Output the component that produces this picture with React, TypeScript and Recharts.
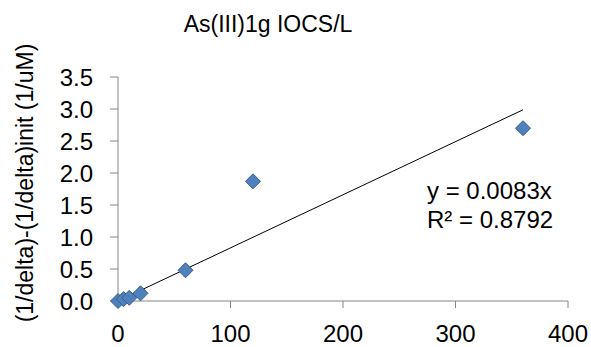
import React from 'react';
import { ScatterChart, Scatter, XAxis, YAxis, ReferenceLine } from 'recharts';

const xValues = [0, 5, 10, 20, 60, 120, 360];
const yValues = [0, 0.03, 0.05, 0.12, 0.48, 1.87, 2.7];
const xTicks = [0, 100, 200, 300, 400];
const yTicks = [0, 0.5, 1.0, 1.5, 2.0, 2.5, 3.0, 3.5];
const slope = 0.0083;
const trendX = [0, 360];

const points = xValues.map((x, i) => ({ x, y: yValues[i] }));
const trend = trendX.map((x) => ({ x, y: slope * x }));

const FONT = '"Liberation Sans", Arial, sans-serif';
const AXIS = '#868686';

const Diamond = (props: any) => {
  const { cx, cy } = props;
  const r = 7.5;
  return (
    <polygon
      points={`${cx},${cy - r} ${cx + r},${cy} ${cx},${cy + r} ${cx - r},${cy}`}
      fill="#4F81BD"
      stroke="#385D8A"
      strokeWidth={1}
    />
  );
};

export default function App() {
  return (
    <div style={{ position: 'absolute', left: 0, top: 0, width: 591, height: 347, background: '#fff' }}>
      <ScatterChart width={591} height={347} margin={{ top: 77, right: 23, bottom: 0, left: 0 }}>
        <XAxis
          type="number"
          dataKey="x"
          domain={[0, 400]}
          ticks={xTicks}
          tickSize={7}
          tickMargin={17}
          height={46}
          axisLine={{ stroke: AXIS }}
          tickLine={{ stroke: AXIS }}
          tick={{ fill: '#000', fontSize: 24, fontFamily: FONT }}
          interval={0}
        />
        <YAxis
          type="number"
          dataKey="y"
          domain={[0, 3.5]}
          ticks={yTicks}
          tickFormatter={(v: number) => v.toFixed(1)}
          tickSize={8}
          tickMargin={17}
          width={118}
          axisLine={{ stroke: AXIS }}
          tickLine={{ stroke: AXIS }}
          tick={{ fill: '#000', fontSize: 24, fontFamily: FONT }}
          interval={0}
        />
        <ReferenceLine
          segment={[trend[0], trend[1]]}
          stroke="#000"
          strokeWidth={1}
          ifOverflow="visible"
        />
        <Scatter data={points} shape={<Diamond />} isAnimationActive={false} />
      </ScatterChart>
      <svg
        width={591}
        height={347}
        style={{ position: 'absolute', left: 0, top: 0, pointerEvents: 'none' }}
      >
        <text x={268} y={32} textAnchor="middle" fontSize={23} fontFamily={FONT} fill="#000">
          As(III)1g IOCS/L
        </text>
        <text x={427} y={199} fontSize={24} fontFamily={FONT} fill="#000">
          y = 0.0083x
        </text>
        <text x={427} y={228} fontSize={24} fontFamily={FONT} fill="#000">
          R² = 0.8792
        </text>
        <text
          x={0}
          y={0}
          transform="translate(33,183) rotate(-90)"
          textAnchor="middle"
          fontSize={23}
          fontFamily={FONT}
          fill="#000"
        >
          (1/delta)-(1/delta)init (1/uM)
        </text>
      </svg>
    </div>
  );
}
